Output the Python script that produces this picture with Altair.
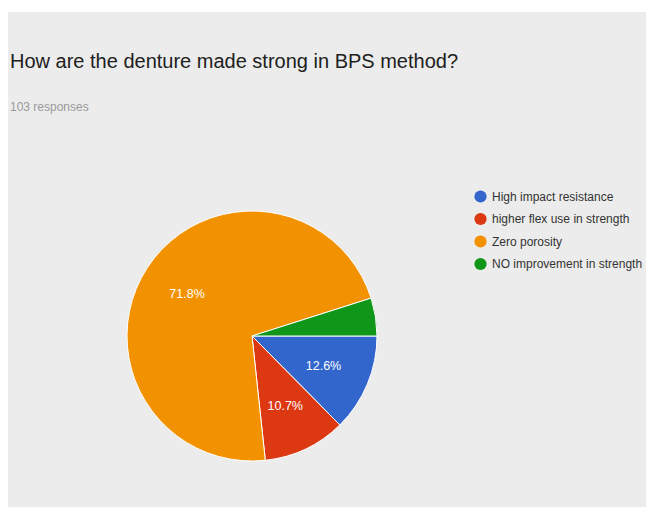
import math
import altair as alt
import pandas as pd

categories = ["High impact resistance", "higher flex use in strength", "Zero porosity", "NO improvement in strength"]
shares = [12.6, 10.7, 71.8, 4.9]
labels = ["12.6%", "10.7%", "71.8%", ""]
colors = ["#3366cc", "#dc3912", "#f39200", "#109618"]
title_text = "How are the denture made strong in BPS method?"
subtitle_text = "103 responses"

df = pd.DataFrame({"category": categories, "share": shares, "label": labels, "idx": list(range(len(categories)))})

FONT = "Liberation Sans, Arial, sans-serif"
CX, CY, R = 244, 324, 125

theta = alt.Theta("share:Q", stack=True, scale=alt.Scale(range=[math.pi / 2, math.pi / 2 + 2 * math.pi]))
color = alt.Color(
    "category:N",
    scale=alt.Scale(domain=categories, range=colors),
    legend=alt.Legend(
        title=None, orient="none", legendX=466, legendY=178,
        symbolType="circle", symbolSize=150, symbolStrokeWidth=0,
        labelFontSize=12, labelFont=FONT, labelColor="#333333",
        rowPadding=9.5, labelOffset=5, labelLimit=300,
    ),
)

base = alt.Chart(df)

pie = base.mark_arc(outerRadius=R, stroke="white", strokeWidth=1).encode(
    theta=theta, color=color, order=alt.Order("idx:Q"),
    x=alt.value(CX), y=alt.value(CY),
)

text = base.mark_text(radius=R * 0.62, fontSize=12.5, font=FONT, color="white").encode(
    theta=theta, order=alt.Order("idx:Q"), text="label:N",
    x=alt.value(CX), y=alt.value(CY),
)

title_df = pd.DataFrame({"t": [title_text]})
sub_df = pd.DataFrame({"t": [subtitle_text]})
title = alt.Chart(title_df).mark_text(align="left", baseline="alphabetic", fontSize=20, font=FONT, color="#202020").encode(
    text="t:N", x=alt.value(2), y=alt.value(56)
)
sub = alt.Chart(sub_df).mark_text(align="left", baseline="alphabetic", fontSize=12, font=FONT, color="#9a9a9a").encode(
    text="t:N", x=alt.value(2), y=alt.value(99)
)

chart = alt.layer(pie, text, title, sub).properties(
    width=638, height=495,
    autosize=alt.AutoSizeParams(type="none"),
    padding={"left": 8, "top": 12, "right": 0, "bottom": 0},
    background="white",
).configure_view(fill="#ececec", stroke=None)

chart.save("out.html", embed_options={"renderer": "svg", "actions": False})
